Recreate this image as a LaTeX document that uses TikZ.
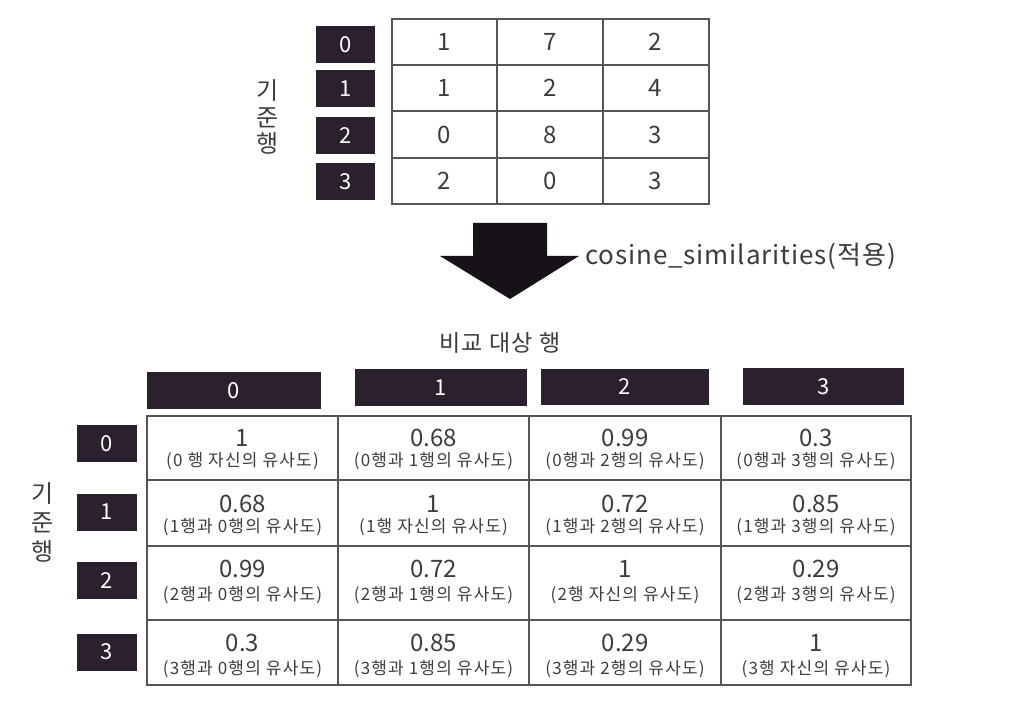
\documentclass[tikz,border=0pt]{standalone}
\usepackage{fontspec}
\setmainfont{Noto Sans CJK KR}
\definecolor{idxcol}{RGB}{42,32,46}
\definecolor{gridcol}{RGB}{85,85,85}
\definecolor{txtcol}{RGB}{60,60,60}
\definecolor{arrcol}{RGB}{22,18,24}
\begin{document}
\begin{tikzpicture}[x=1pt,y=-1pt,
  idx/.style={fill=idxcol, text=white, inner sep=0pt, font=\fontsize{22}{22}\selectfont},
  grid/.style={draw=gridcol, line width=1.1pt},
  num/.style={text=txtcol, font=\fontsize{24}{24}\selectfont, inner sep=0pt},
  subt/.style={text=txtcol, font=\fontsize{17}{17}\selectfont\addfontfeatures{LetterSpace=7}, inner sep=0pt},
  lbl/.style={text=txtcol, font=\fontsize{24}{24}\selectfont, inner sep=0pt}]
\useasboundingbox (0,0) rectangle (1015,703);
% ---------- top table ----------
\draw[grid] (392,19) rectangle (709,204);
\draw[grid] (497,19) -- (497,204) (603,19) -- (603,204);
\draw[grid] (392,65) -- (709,65) (392,111) -- (709,111) (392,158) -- (709,158);
\foreach \r/\y in {0/44.5,1/88.5,2/135.5,3/181.5}
  \node[idx, minimum width=59pt, minimum height=37pt] (t\r) at (345.5,\y) {\r};
\foreach \r/\y/\a/\b/\c in {0/42/1/7/2,1/88/1/2/4,2/134.5/0/8/3,3/181/2/0/3}{
  \node[num] (ta\r) at (444.5,\y) {\a};
  \node[num] (tb\r) at (550,\y) {\b};
  \node[num] (tc\r) at (655.5,\y) {\c};
}
\node[lbl, align=center, font=\fontsize{24}{26.5}\selectfont] (tl) at (268,117) {기\\준\\행};
% ---------- arrow ----------
\fill[arrcol] (473,223) -- (547,223) -- (547,256) -- (579,256) -- (510,299) -- (440,256) -- (473,256) -- cycle;
\node[lbl, anchor=west, font=\fontsize{26}{26}\selectfont\addfontfeatures{LetterSpace=3.4}] (fn) at (585,256) {cosine\_similarities(적용)};
% ---------- bottom table ----------
\node[lbl, font=\fontsize{23}{23}\selectfont\addfontfeatures{LetterSpace=5}] (hdr) at (500,343) {비교 대상 행};
\node[idx, minimum width=174pt, minimum height=37pt] (h0) at (234,390.5) {0};
\node[idx, minimum width=172pt, minimum height=37pt] (h1) at (441,387.5) {1};
\node[idx, minimum width=168pt, minimum height=36pt] (h2) at (625,387) {2};
\node[idx, minimum width=161pt, minimum height=37pt] (h3) at (823.5,386.5) {3};
\foreach \r/\y in {0/443.5,1/512,2/580.5,3/652}
  \node[idx, minimum width=60pt, minimum height=37pt] (r\r) at (107,\y) {\r};
\node[lbl, align=center, font=\fontsize{24}{29}\selectfont] (bl) at (43,522) {기\\준\\행};
\draw[grid] (147,416) rectangle (911,685);
\draw[grid] (338,416) -- (338,685) (529,416) -- (529,685) (721,416) -- (721,685);
\draw[grid] (147,480) -- (911,480) (147,546) -- (911,546) (147,620) -- (911,620);
% cells: row / num y / values
\foreach \r/\ny/\va/\vb/\vc/\vd in {0/438/1/0.68/0.99/0.3,1/504/0.68/1/0.72/0.85,2/569/0.99/0.72/1/0.29,3/643/0.3/0.85/0.29/1}{
  \node[num] (n\r0) at (242.5,\ny) {\va};
  \node[num] (n\r1) at (433.5,\ny) {\vb};
  \node[num] (n\r2) at (625,\ny) {\vc};
  \node[num] (n\r3) at (816,\ny) {\vd};
}
\node[subt] (s00) at (242.5,461) {(0 행 자신의 유사도)};
\node[subt] (s01) at (433.5,461) {(0행과 1행의 유사도)};
\node[subt] (s02) at (625,461) {(0행과 2행의 유사도)};
\node[subt] (s03) at (816,461) {(0행과 3행의 유사도)};
\node[subt] (s10) at (242.5,527) {(1행과 0행의 유사도)};
\node[subt] (s11) at (433.5,527) {(1행 자신의 유사도)};
\node[subt] (s12) at (625,527) {(1행과 2행의 유사도)};
\node[subt] (s13) at (816,527) {(1행과 3행의 유사도)};
\node[subt] (s20) at (242.5,595) {(2행과 0행의 유사도)};
\node[subt] (s21) at (433.5,595) {(2행과 1행의 유사도)};
\node[subt] (s22) at (625,595) {(2행 자신의 유사도)};
\node[subt] (s23) at (816,595) {(2행과 3행의 유사도)};
\node[subt] (s30) at (242.5,669) {(3행과 0행의 유사도)};
\node[subt] (s31) at (433.5,669) {(3행과 1행의 유사도)};
\node[subt] (s32) at (625,669) {(3행과 2행의 유사도)};
\node[subt] (s33) at (816,669) {(3행 자신의 유사도)};
\end{tikzpicture}
\end{document}
